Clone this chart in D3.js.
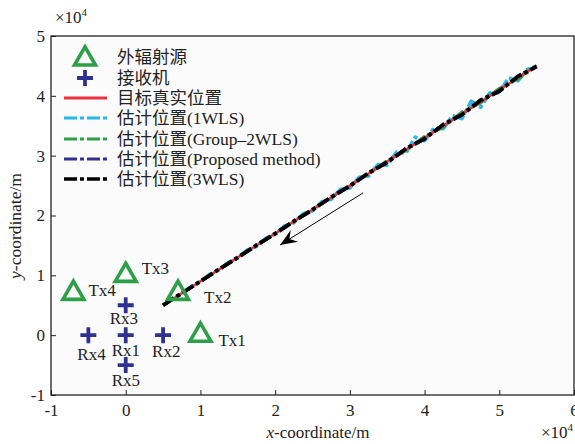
<!DOCTYPE html>
<html><head><meta charset="utf-8">
<script src="https://cdn.jsdelivr.net/npm/d3@7"></script>
<style>
body{margin:0;background:#fff;}
svg{display:block;}
text{font-family:"Liberation Serif","Times New Roman","Noto Sans CJK SC",serif;fill:#222;}
</style></head>
<body><svg id="c" width="575" height="444"></svg>
<script>
// ---------- data (meters) ----------
const xTicks = [-10000,0,10000,20000,30000,40000,50000,60000];
const yTicks = [-10000,0,10000,20000,30000,40000,50000];

const txNames = ["Tx1","Tx2","Tx3","Tx4"];
const txX = [10000, 7000, 0, -7000];
const txY = [0, 7000, 10000, 7000];

const rxNames = ["Rx1","Rx2","Rx3","Rx4","Rx5"];
const rxX = [0, 5000, 0, -5000, 0];
const rxY = [0, 0, 5000, 0, -5000];

const trueX = [5000, 15000, 25000, 35000, 45000, 55000];
const trueY = [5000, 13000, 21000, 29000, 37000, 45000];

const wls1X = [5000,6250,7500,8750,10000,11250,12500,13750,15000,16250,17500,18750,20000,21250,22500,23750,25000,26250,27500,28750,30000,31250,32500,33750,35000,36250,37500,38750,40000,41250,42500,43750,45000,46250,47500,48750,50000,51250,52500,53750,55000];
const wls1Y = [5000,6150,6900,8100,8950,10150,10900,12150,12900,14200,14850,16200,16850,18250,18800,20300,20750,22300,22700,24400,24600,26400,26600,28500,28400,30600,30400,33100,32500,34600,34500,36700,36200,39100,38100,40500,40500,43000,42500,44400,45000];

const estX = [5000,7500,10000,12500,15000,17500,20000,22500,25000,27500,30000,32500,35000,37500,40000,42500,45000,47500,50000,52500,55000];
const groupY = [5000,6980,9030,10970,13040,14960,17050,18940,21070,22920,25090,26900,29150,30850,33200,34800,37250,38850,41200,42850,45000];
const propY  = [5000,7030,8970,11020,12960,15060,16940,19030,20970,23060,24880,27080,28850,31200,32750,35150,36800,39300,40700,43300,44950];
const wls3Y  = [5000,7020,8990,11040,12980,15030,16970,19060,20950,23080,24930,27120,28900,31150,32850,35200,36850,39250,40800,43250,44900];

const arrowX = [31770, 20660];
const arrowY = [23780, 15080];

const legendLabels = ["外辐射源","接收机","目标真实位置","估计位置(1WLS)","估计位置(Group\u20132WLS)","估计位置(Proposed method)","估计位置(3WLS)"];

// ---------- drawing ----------
const C = {red:"#e8333c", cyan:"#29b6e8", green:"#2e9e48", navy:"#2e3192", black:"#000"};
const svg = d3.select("#c");
const x = d3.scaleLinear([-10000,60000],[51,574]);
const y = d3.scaleLinear([-10000,50000],[395,36]);

svg.append("rect").attr("x",x(-10000)).attr("y",y(50000))
  .attr("width",x(60000)-x(-10000)).attr("height",y(-10000)-y(50000)).attr("fill","#fbfbfb");

const fmt = d => String(d/1e4);
const gx = svg.append("g").attr("transform",`translate(0,${y(-10000)})`)
  .call(d3.axisBottom(x).tickValues(xTicks).tickSize(-5).tickPadding(9).tickFormat(fmt));
const gy = svg.append("g").attr("transform",`translate(${x(-10000)},0)`)
  .call(d3.axisLeft(y).tickValues(yTicks).tickSize(-5).tickPadding(6).tickFormat(fmt));
[gx,gy].forEach(g=>{
  g.select(".domain").remove();
  g.selectAll("line").attr("stroke","#222");
  g.selectAll("text").style("font-size","17px").attr("fill","#222")
   .style("font-family",'"Liberation Serif",serif');
});

// frame
svg.append("rect").attr("x",x(-10000)).attr("y",y(50000))
  .attr("width",x(60000)-x(-10000)).attr("height",y(-10000)-y(50000))
  .attr("fill","none").attr("stroke","#222").attr("stroke-width",1.3);

const line = d3.line().x(d=>x(d[0])).y(d=>y(d[1]));
const dash = "13,3,4,3";
function series(xs, ys, color, w, da){
  svg.append("path").datum(xs.map((v,i)=>[v,ys[i]]))
    .attr("d",line).attr("fill","none").attr("stroke",color)
    .attr("stroke-width",w).attr("stroke-dasharray",da||null)
    .attr("stroke-linejoin","round");
}
series(wls1X, wls1Y, C.cyan, 3.6, dash);
series(estX, groupY, C.green, 3.4, dash);
series(estX, propY, C.navy, 3.4, dash);
series(trueX, trueY, C.red, 2.6, null);
series(estX, wls3Y, C.black, 3.8, dash);

// arrow
const defs = svg.append("defs");
defs.append("marker").attr("id","ah").attr("markerUnits","userSpaceOnUse")
  .attr("viewBox","-18 -8 20 16").attr("refX",0).attr("refY",0)
  .attr("markerWidth",20).attr("markerHeight",16).attr("orient","auto")
  .append("path").attr("d","M0,0 L-17,-7 L-11,0 L-17,7 Z").attr("fill","#000");
svg.append("path").datum(arrowX.map((v,i)=>[v,arrowY[i]]))
  .attr("d",line).attr("stroke","#000").attr("stroke-width",1).attr("fill","none")
  .attr("marker-end","url(#ah)");

// markers
const tri = d3.symbol().type(d3.symbolTriangle).size(190);
function triangle(g, cx, cy){
  g.append("path").attr("d",tri()).attr("transform",`translate(${cx},${cy})`)
    .attr("fill","none").attr("stroke",C.green).attr("stroke-width",3.6);
}
function plus(g, cx, cy){
  g.append("path").attr("d","M-8,0H8M0,-8V8").attr("transform",`translate(${cx},${cy})`)
    .attr("stroke",C.navy).attr("stroke-width",3.8).attr("fill","none");
}
txX.forEach((v,i)=>triangle(svg, x(v), y(txY[i])));
rxX.forEach((v,i)=>plus(svg, x(v), y(rxY[i])));

// labels for Tx/Rx
const txOff = [[18,11],[26,10],[16,-1],[15,3]];
txNames.forEach((n,i)=>svg.append("text").attr("x",x(txX[i])+txOff[i][0]).attr("y",y(txY[i])+txOff[i][1])
  .style("font-size","17px").text(n));
const rxOff = [[-14,21],[-11,22],[-16,19],[-11,25],[-14,21]];
rxNames.forEach((n,i)=>svg.append("text").attr("x",x(rxX[i])+rxOff[i][0]).attr("y",y(rxY[i])+rxOff[i][1])
  .style("font-size","17px").text(n));

// legend
const lg = svg.append("g");
const rowY = [57,78,98,118,139,159,179];
const lx = 85;
triangle(lg, lx, rowY[0]+2);
plus(lg, lx, rowY[1]);
const lcols = [C.red,C.cyan,C.green,C.navy,C.black];
lcols.forEach((c,i)=>{
  lg.append("line").attr("x1",64).attr("x2",107).attr("y1",rowY[i+2]).attr("y2",rowY[i+2])
    .attr("stroke",c).attr("stroke-width",c===C.black?3.6:3.2)
    .attr("stroke-dasharray",i===0?null:dash);
});
legendLabels.forEach((t,i)=>lg.append("text").attr("x",117).attr("y",rowY[i]).attr("dy","0.35em")
  .style("font-size","17.5px").text(t));

// exponent labels
function expo(px, py){
  const t = svg.append("text").attr("x",px).attr("y",py).style("font-size","17px");
  t.append("tspan").text("\u00d710");
  t.append("tspan").attr("dy",-7).style("font-size","11px").text("4");
}
expo(55, 23);
expo(541, 438);

// axis titles
const xt = svg.append("text").attr("x",318).attr("y",438).attr("text-anchor","middle").style("font-size","17px");
xt.append("tspan").style("font-style","italic").text("x");
xt.append("tspan").text("-coordinate/m");
const yt = svg.append("text").attr("transform","translate(21,226) rotate(-90)").attr("text-anchor","middle").style("font-size","17.5px");
yt.append("tspan").style("font-style","italic").text("y");
yt.append("tspan").text("-coordinate/m");
</script></body></html>
